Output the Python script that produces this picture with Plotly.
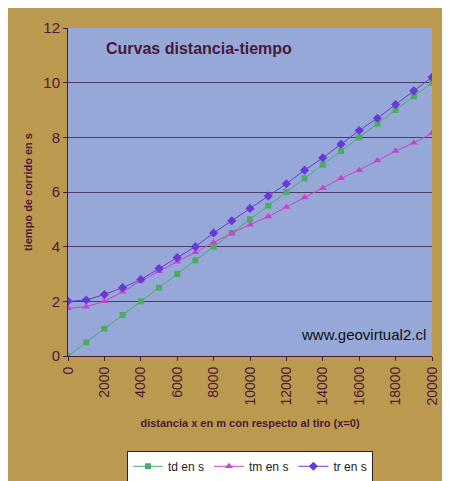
import plotly.graph_objects as go

# distancia x (m) y tiempos (s)
dist = [0, 1000, 2000, 3000, 4000, 5000, 6000, 7000, 8000, 9000, 10000,
        11000, 12000, 13000, 14000, 15000, 16000, 17000, 18000, 19000, 20000]
td = [0, 0.5, 1.0, 1.5, 2.0, 2.5, 3.0, 3.5, 4.0, 4.5, 5.0,
      5.5, 6.0, 6.5, 7.0, 7.5, 8.0, 8.5, 9.0, 9.5, 10.0]
tm = [1.75, 1.8, 2.0, 2.35, 2.75, 3.1, 3.45, 3.8, 4.15, 4.5, 4.8,
      5.1, 5.45, 5.8, 6.15, 6.5, 6.8, 7.15, 7.5, 7.8, 8.15]
tr = [2.0, 2.05, 2.25, 2.5, 2.8, 3.2, 3.6, 4.0, 4.5, 4.95, 5.4,
      5.85, 6.3, 6.8, 7.25, 7.75, 8.25, 8.7, 9.2, 9.7, 10.2]

ink = "#4a1838"
fig = go.Figure()
fig.add_trace(go.Scatter(x=dist, y=td, name="td en s", mode="lines+markers",
                         line=dict(color="#4dab66", width=1),
                         marker=dict(symbol="square", size=6, color="#4dab66")))
fig.add_trace(go.Scatter(x=dist, y=tm, name="tm en s", mode="lines+markers",
                         line=dict(color="#d040d0", width=1),
                         marker=dict(symbol="triangle-up", size=7, color="#d040d0")))
fig.add_trace(go.Scatter(x=dist, y=tr, name="tr en s", mode="lines+markers",
                         line=dict(color="#6a38d8", width=1),
                         marker=dict(symbol="diamond", size=7, color="#6a38d8")))

fig.add_annotation(text="<b>Curvas distancia-tiempo</b>", xref="paper", yref="paper",
                   x=0.36, y=0.97, showarrow=False, font=dict(size=16, color=ink))
fig.add_annotation(text="www.geovirtual2.cl", xref="paper", yref="paper",
                   x=0.99, y=0.035, xanchor="right", yanchor="bottom", showarrow=False,
                   font=dict(size=15, color="#111111"))

fig.update_layout(
    width=450, height=481,
    margin=dict(l=60, r=26, t=20, b=133, autoexpand=False),
    paper_bgcolor="#bb9a50", plot_bgcolor="#96a8d8",
    font=dict(family="Liberation Sans, Arial", color=ink),
    xaxis=dict(range=[0, 20000], dtick=2000, tickformat="d", tickangle=-90, showgrid=False,
               ticks="outside", ticklen=4, tickcolor=ink, linecolor=ink,
               tickfont=dict(size=14), showline=True, automargin=False,
               title=dict(text="<b>distancia x en m con respecto al tiro (x=0)</b>",
                          font=dict(size=11), standoff=14)),
    yaxis=dict(range=[0, 12], dtick=2, gridcolor="#503c68", gridwidth=1.3,
               ticks="outside", ticklen=4, tickcolor=ink, linecolor=ink, showline=True,
               tickfont=dict(size=15), automargin=False,
               title=dict(text="<b>tiempo de corrido en s</b>", font=dict(size=11), standoff=8)),
    legend=dict(orientation="h", x=0.5, xanchor="center", y=0.015, yanchor="bottom",
                yref="container",
                bgcolor="#ffffff", bordercolor="#222222", borderwidth=1,
                font=dict(size=12, color="#222222")),
)

fig.write_html("out.html")
